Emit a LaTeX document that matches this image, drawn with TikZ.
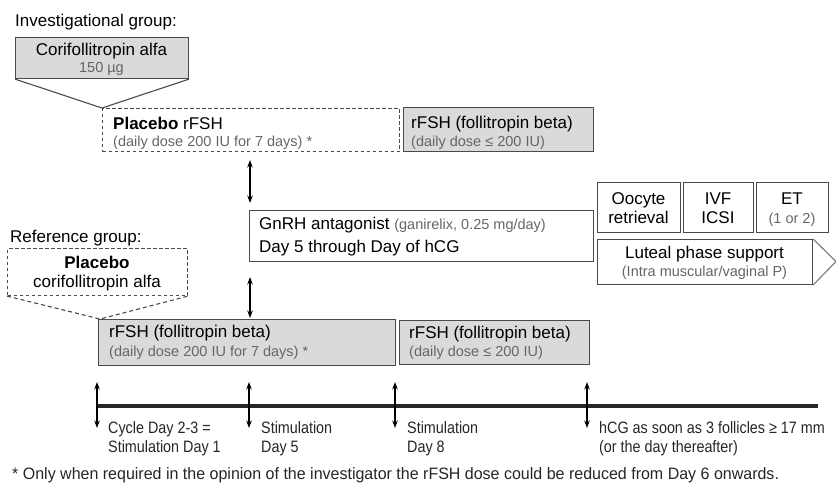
\documentclass[tikz,border=0pt]{standalone}
\usepackage{fontspec}
\setmainfont{Liberation Sans}
\newfontfamily\narrowfont{Liberation Sans}[FakeStretch=0.87]
\newfontfamily\fnfont{Liberation Sans}[FakeStretch=0.97]
\usetikzlibrary{arrows.meta}
\definecolor{boxline}{HTML}{4A4A4A}
\definecolor{boxfill}{HTML}{DADADA}
\definecolor{subtext}{HTML}{666666}
\newcommand{\bigf}{\fontsize{17}{20}\selectfont}
\newcommand{\smallf}{\fontsize{14.5}{17}\selectfont}
\newcommand{\tlf}{\narrowfont\fontsize{16.5}{19}\selectfont}
\newcommand{\fnf}{\fnfont\fontsize{16.5}{19}\selectfont}
\tikzset{
  graybox/.style={draw=boxline, fill=boxfill, line width=1.1pt, rectangle, inner sep=0pt, anchor=north west},
  whitebox/.style={draw=boxline, fill=white, line width=1.1pt, rectangle, inner sep=0pt, anchor=north west},
  dashbox/.style={draw=boxline, dashed, dash pattern=on 3.5pt off 2.5pt, line width=1.1pt, rectangle, inner sep=0pt, anchor=north west},
  lbl/.style={anchor=base west, inner sep=0pt, font=\bigf},
  clbl/.style={anchor=base, inner sep=0pt, font=\bigf},
  sub/.style={text=subtext, font=\smallf},
  dbl/.style={{Stealth[length=7.5pt,width=5.5pt]}-{Stealth[length=7.5pt,width=5.5pt]}, line width=1.1pt},
  tl/.style={anchor=base west, inner sep=0pt, font=\tlf, text=black!85},
}
\begin{document}
\begin{tikzpicture}[x=1pt,y=-1pt]
\useasboundingbox (0,0) rectangle (836,488);
% Investigational group
\node[lbl] (ig) at (15,26) {Investigational group:};
\node[graybox, minimum width=173pt, minimum height=41pt] (cori) at (15,37) {};
\coordinate (tipA) at (102,108);
\draw[boxline, line width=1.1pt] (cori.south west) -- (tipA) -- (cori.south east);
\node[clbl] (coriT) at (101.5,55) {Corifollitropin alfa};
\node[clbl, sub] (coriD) at (101.5,72) {150 µg};
\node[dashbox, minimum width=297pt, minimum height=43pt] (plac) at (102,108) {};
\node[lbl] (placT) at (113,129) {\textbf{Placebo} rFSH};
\node[lbl, sub] (placD) at (113,146) {(daily dose 200 IU for 7 days) *};
\node[graybox, minimum width=190pt, minimum height=44pt] (rf1) at (403,107) {};
\node[lbl] (rf1T) at (411,128) {rFSH (follitropin beta)};
\node[lbl, sub] (rf1D) at (411,146) {(daily dose ≤ 200 IU)};
% GnRH
\coordinate (a1t) at (250,160);
\coordinate (a1b) at (250,203);
\draw[dbl] (a1t) -- (a1b);
\node[whitebox, minimum width=344pt, minimum height=51pt] (gn) at (249,210) {};
\node[lbl] (gnT) at (259,229) {GnRH antagonist {\color{subtext}\smallf(ganirelix, 0.25 mg/day)}};
\node[lbl] (gnD) at (259,252) {Day 5 through Day of hCG};
\coordinate (a2t) at (250,277);
\coordinate (a2b) at (250,318);
\draw[dbl] (a2t) -- (a2b);
% Right boxes
\node[whitebox, minimum width=83pt, minimum height=50pt] (oo) at (597,182) {};
\node[clbl] (ooT) at (638.5,204) {Oocyte};
\node[clbl] (ooD) at (638.5,223) {retrieval};
\node[whitebox, minimum width=70pt, minimum height=50pt] (ivf) at (683,182) {};
\node[clbl] (ivfT) at (718,204) {IVF};
\node[clbl] (ivfD) at (718,223) {ICSI};
\node[whitebox, minimum width=72pt, minimum height=50pt] (et) at (756,182) {};
\node[clbl] (etT) at (792,204) {ET};
\node[clbl, sub] (etD) at (792,223) {(1 or 2)};
\node[whitebox, minimum width=215pt, minimum height=45pt] (lut) at (597,239) {};
\coordinate (lutTip) at (836,261.5);
\draw[boxline!75, line width=1.1pt] (lut.north east) -- (lutTip) -- (lut.south east);
\node[clbl] (lutT) at (704.5,258) {Luteal phase support};
\node[clbl, sub] (lutD) at (704.5,276) {(Intra muscular/vaginal P)};
% Reference group
\node[lbl] (rg) at (10,242) {Reference group:};
\node[dashbox, minimum width=180pt, minimum height=47pt] (pc) at (7,248) {};
\coordinate (tipB) at (100,319);
\draw[boxline, line width=1.1pt, dashed, dash pattern=on 4pt off 3pt] (pc.south west) -- (tipB) -- (pc.south east);
\node[clbl] (pcT) at (97,268) {\textbf{Placebo}};
\node[clbl] (pcD) at (97,287) {corifollitropin alfa};
\node[graybox, minimum width=297pt, minimum height=46pt] (rf2) at (98,319) {};
\node[lbl] (rf2T) at (109,337) {rFSH (follitropin beta)};
\node[lbl, sub] (rf2D) at (109,356) {(daily dose 200 IU for 7 days) *};
\node[graybox, minimum width=190pt, minimum height=44pt] (rf3) at (399,320) {};
\node[lbl] (rf3T) at (409,338) {rFSH (follitropin beta)};
\node[lbl, sub] (rf3D) at (409,356) {(daily dose ≤ 200 IU)};
% Timeline
\coordinate (tl0) at (97,406);
\coordinate (tl1) at (818,406);
\draw[line width=3.5pt, black!85] (tl0) -- (tl1);
\foreach \x/\n in {97/t1,249/t2,395/t3,587/t4}{
  \coordinate (\n a) at (\x,382);
  \coordinate (\n b) at (\x,428);
  \draw[dbl] (\n a) -- (\n b);
}
\node[tl] (l1a) at (108,433) {Cycle Day 2-3 =};
\node[tl] (l1b) at (108,452) {Stimulation Day 1};
\node[tl] (l2a) at (261,433) {Stimulation};
\node[tl] (l2b) at (261,452) {Day 5};
\node[tl] (l3a) at (407,433) {Stimulation};
\node[tl] (l3b) at (407,452) {Day 8};
\node[tl] (l4a) at (599,433) {hCG as soon as 3 follicles ≥ 17 mm};
\node[tl] (l4b) at (599,452) {(or the day thereafter)};
\node[tl, font=\fnf] (fn) at (12,479) {* Only when required in the opinion of the investigator the rFSH dose could be reduced from Day 6 onwards.};
\end{tikzpicture}
\end{document}
